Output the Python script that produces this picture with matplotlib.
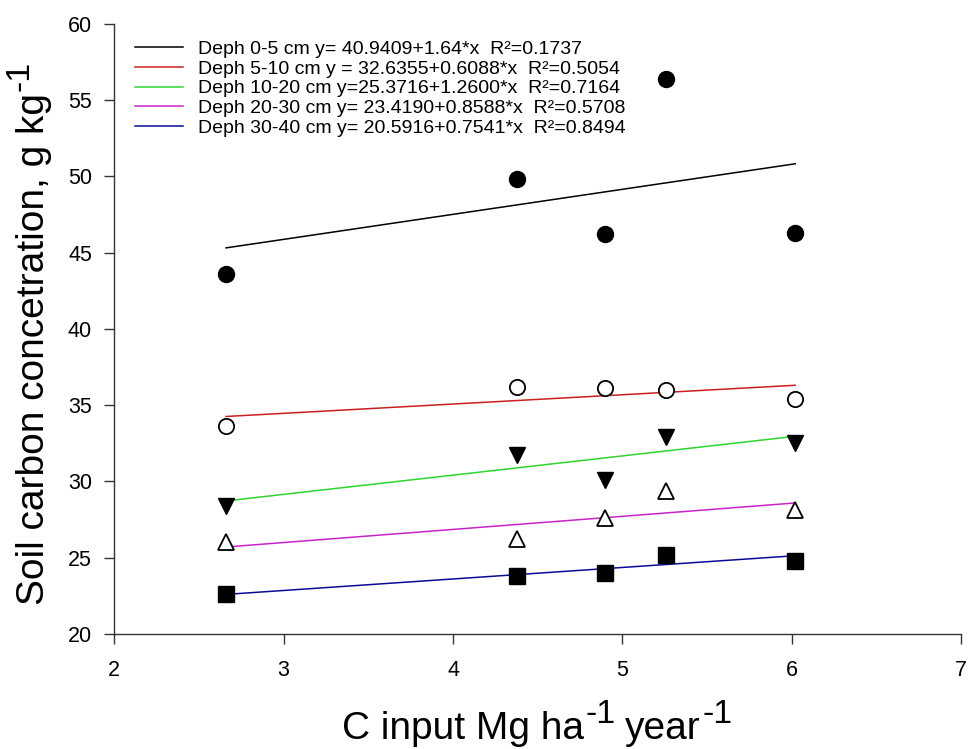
import numpy as np
import matplotlib
matplotlib.use("Agg")
import matplotlib.pyplot as plt
from matplotlib.transforms import IdentityTransform

plt.rcParams["font.family"] = ["Liberation Sans", "DejaVu Sans"]

# C input (Mg ha-1 year-1) for each treatment
c_input = [2.66, 4.38, 4.90, 5.26, 6.02]

# soil carbon concentration (g kg-1) by depth
depth_0_5 = [43.6, 49.8, 46.2, 56.4, 46.3]
depth_5_10 = [33.6, 36.2, 36.1, 36.0, 35.4]
depth_10_20 = [28.4, 31.7, 30.1, 32.9, 32.5]
depth_20_30 = [26.0, 26.2, 27.6, 29.4, 28.1]
depth_30_40 = [22.6, 23.8, 24.0, 25.2, 24.8]

# linear fits: intercept, slope, R2
fits = [
    (40.9409, 1.64, 0.1737),
    (32.6355, 0.6088, 0.5054),
    (25.3716, 1.2600, 0.7164),
    (23.4190, 0.8588, 0.5708),
    (20.5916, 0.7541, 0.8494),
]
fit_labels = [
    "Deph 0-5 cm y= 40.9409+1.64*x  R\u00b2=0.1737",
    "Deph 5-10 cm y = 32.6355+0.6088*x  R\u00b2=0.5054",
    "Deph 10-20 cm y=25.3716+1.2600*x  R\u00b2=0.7164",
    "Deph 20-30 cm y= 23.4190+0.8588*x  R\u00b2=0.5708",
    "Deph 30-40 cm y= 20.5916+0.7541*x  R\u00b2=0.8494",
]
line_colors = ["#000000", "#cc1f1f", "#2ed62e", "#cc22cc", "#0a0a99"]

series = [depth_0_5, depth_5_10, depth_10_20, depth_20_30, depth_30_40]
markers = [
    dict(marker="o", ms=11.5, mfc="black", mec="black"),
    dict(marker="o", ms=11, mfc="white", mec="black", mew=1.3),
    dict(marker="v", ms=11, mfc="black", mec="black"),
    dict(marker="^", ms=11, mfc="white", mec="black", mew=1.3),
    dict(marker="s", ms=11, mfc="black", mec="black"),
]


def rich_label(fig, pieces, cx, base, vertical=False):
    """Draw text pieces (text, size, rise_px, gap_px) end to end, centred on cx.

    Coordinates are output pixels; for vertical labels cx is the centre
    along y and base is the baseline x position.
    """
    renderer = fig.canvas.get_renderer()
    items = []
    for s, size, rise, gap in pieces:
        t = fig.text(0, 0, s, fontsize=size, transform=IdentityTransform(),
                     ha="left", va="baseline", rotation_mode="anchor")
        w = t.get_window_extent(renderer).width
        items.append((t, w, rise, gap))
    total = sum(w + gap for _, w, _, gap in items)
    pos = cx - total / 2
    for t, w, rise, gap in items:
        pos += gap
        if vertical:
            t.set_rotation(90)
            t.set_position((base - rise, pos))
        else:
            t.set_position((pos, base + rise))
        pos += w


fig = plt.figure(figsize=(9.68, 7.49), dpi=100)
ax = fig.add_axes([0.118, 0.1535, 0.875, 0.815])

xs = np.array([min(c_input), max(c_input)])
handles = []
for (a, b, r2), col, lab in zip(fits, line_colors, fit_labels):
    h, = ax.plot(xs, a + b * xs, color=col, lw=1.1, label=lab, zorder=2)
    handles.append(h)

for ys, mk in zip(series, markers):
    ax.plot(c_input, ys, ls="none", zorder=3, **mk)

ax.set_xlim(2, 7)
ax.set_ylim(20, 60)
ax.set_xticks(range(2, 8))
ax.set_yticks(range(20, 61, 5))

for side in ["top", "right"]:
    ax.spines[side].set_visible(False)
for side in ["left", "bottom"]:
    ax.spines[side].set_color("#333333")
    ax.spines[side].set_linewidth(1.0)
ax.tick_params(direction="out", length=7, width=1.0, color="#333333",
               labelsize=15.5)
ax.tick_params(axis="x", pad=12)
ax.tick_params(axis="y", pad=9)

ax.legend(handles=handles, loc="upper left", bbox_to_anchor=(0.025, 0.972),
          frameon=False, fontsize=14, handlelength=2.45, handletextpad=0.75,
          labelspacing=0.1, borderaxespad=0.0, borderpad=0.0)

# axis titles with full-size raised exponents
rich_label(fig, [("C input Mg ha", 28, 0, 0), ("-1", 24.5, 16, 2),
                 ("year", 28, 0, 9), ("-1", 24.5, 16, 2)],
           537, 10)
rich_label(fig, [("Soil carbon concetration, g kg", 28, 0, 0), ("-1", 24.5, 16, 2)],
           416, 44, vertical=True)

fig.savefig("out.png", dpi=100)
